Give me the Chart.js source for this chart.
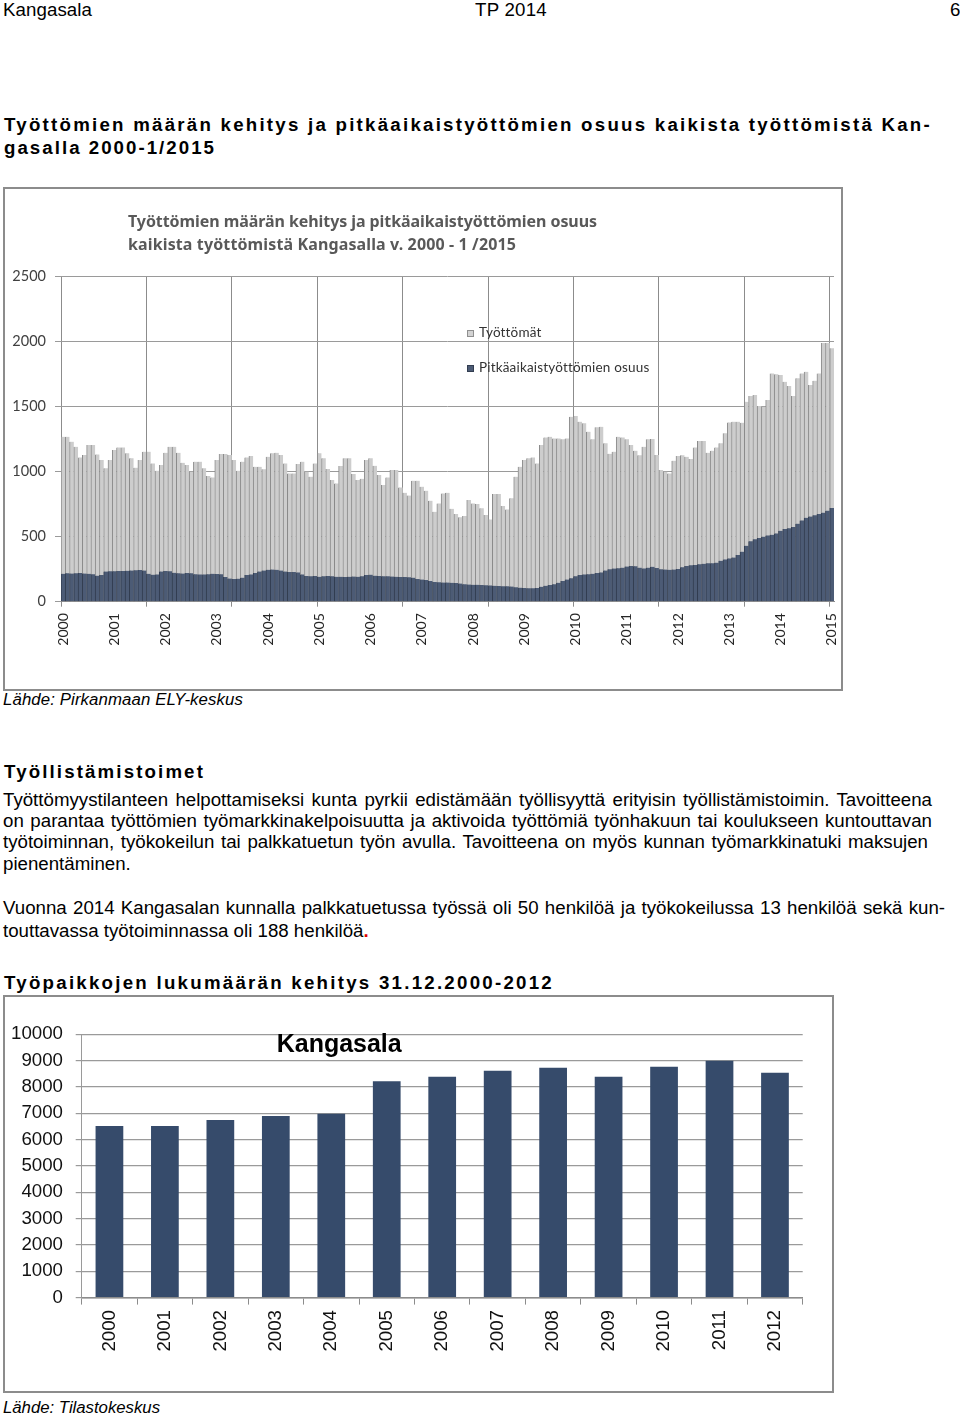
<!DOCTYPE html>
<html><head><meta charset="utf-8">
<script src="https://cdn.jsdelivr.net/npm/chart.js@4.4.1/dist/chart.umd.min.js"></script>
<style>
html,body{margin:0;padding:0;background:#fff;}
body{width:960px;height:1414px;position:relative;overflow:hidden;font-family:"Liberation Sans",Arial,sans-serif;color:#000;}
.t{position:absolute;white-space:nowrap;font-size:18.7px;line-height:18.7px;}
.b{font-weight:bold;}
.src{position:absolute;white-space:nowrap;font-style:italic;font-size:16.8px;line-height:16.8px;}
.frame{position:absolute;border:2px solid #8c8c8c;box-sizing:border-box;background:#fff;}
.cw{position:absolute;}
.ct{position:absolute;white-space:nowrap;font-family:"Noto Sans","Open Sans",sans-serif;font-weight:700;font-size:16px;line-height:16px;color:#595959;}
.lg{position:absolute;white-space:nowrap;font-family:Lato,sans-serif;font-size:13.5px;line-height:13.5px;color:#333;}
.sw{position:absolute;width:7px;height:7px;box-sizing:border-box;}
.kt{position:absolute;white-space:nowrap;font-family:"Liberation Sans",Arial,sans-serif;font-weight:bold;font-size:25px;line-height:25px;color:#000;}
</style></head><body>

<div class="t" style="left:3px;top:0.8px" data-w="89">Kangasala</div>
<div class="t" style="left:475px;top:0.8px" data-w="72">TP 2014</div>
<div class="t" style="left:950px;top:0.8px">6</div>

<div class="t b" style="left:4px;top:115.5px" data-w="928">Työttömien määrän kehitys ja pitkäaikaistyöttömien osuus kaikista työttömistä Kan-</div>
<div class="t b" style="left:4px;top:138.5px" data-w="212">gasalla 2000-1/2015</div>

<div class="frame" style="left:3px;top:187px;width:840px;height:504px"></div>
<div class="cw" style="left:5px;top:189px;width:836px;height:500px"><canvas id="c1" width="836" height="500"></canvas></div>
<div class="ct" style="left:128px;top:212.8px" data-w="469">Työttömien määrän kehitys ja pitkäaikaistyöttömien osuus</div>
<div class="ct" style="left:128px;top:235.5px" data-w="388">kaikista työttömistä Kangasalla v. 2000 - 1 /2015</div>
<div class="sw" style="left:467px;top:330px;background:#d3d3d3;border:1px solid #8f8f8f"></div>
<div class="lg" style="left:479px;top:326px" data-w="62">Työttömät</div>
<div class="sw" style="left:467px;top:365px;background:#4c5b75;border:1px solid #323d50"></div>
<div class="lg" style="left:479px;top:360.7px" data-w="170">Pitkäaikaistyöttömien osuus</div>

<div class="src" style="left:3px;top:691.8px" data-w="240">Lähde: Pirkanmaan ELY-keskus</div>

<div class="t b" style="left:4px;top:762.5px" data-w="201">Työllistämistoimet</div>
<div class="t" style="left:3px;top:790.5px" data-w="929" data-m="w">Työttömyystilanteen helpottamiseksi kunta pyrkii edistämään työllisyyttä erityisin työllistämistoimin. Tavoitteena</div>
<div class="t" style="left:3px;top:811.6px" data-w="929" data-m="w">on parantaa työttömien työmarkkinakelpoisuutta ja aktivoida työttömiä työnhakuun tai koulukseen kuntouttavan</div>
<div class="t" style="left:3px;top:832.7px" data-w="925" data-m="w">työtoiminnan, työkokeilun tai palkkatuetun työn avulla. Tavoitteena on myös kunnan työmarkkinatuki maksujen</div>
<div class="t" style="left:3px;top:854.5px">pienentäminen.</div>

<div class="t" style="left:3px;top:898.5px" data-w="942" data-m="w">Vuonna 2014 Kangasalan kunnalla palkkatuetussa työssä oli 50 henkilöä ja työkokeilussa 13 henkilöä sekä kun-</div>
<div class="t" style="left:3px;top:921.5px">touttavassa työtoiminnassa oli 188 henkilöä<span style="color:#e00000;font-weight:bold">.</span></div>

<div class="t b" style="left:4px;top:973.5px" data-w="550">Työpaikkojen lukumäärän kehitys 31.12.2000-2012</div>

<div class="frame" style="left:3px;top:995px;width:831px;height:398px"></div>
<div class="cw" style="left:5px;top:997px;width:827px;height:394px"><canvas id="c2" width="827" height="394"></canvas></div>
<div class="kt" style="left:276.7px;top:1030.8px" data-w="125">Kangasala</div>

<div class="src" style="left:3px;top:1399.5px" data-w="157">Lähde: Tilastokeskus</div>

<script>
// ---------- Chart 1 data: monthly, 2000-01 ... 2015-01 ----------
const firstYear = 2000;
const yearLabels = ['2000','2001','2002','2003','2004','2005','2006','2007','2008','2009','2010','2011','2012','2013','2014','2015'];
const unemployed = [
1269,1269,1231,1192,1110,1128,1205,1205,1133,1090,
1026,1090,1167,1187,1187,1141,1103,1031,1090,1154,
1154,1064,1008,1051,1146,1192,1192,1146,1069,1051,
1000,1077,1077,1026,967,956,1090,1136,1136,1128,
1090,1008,1077,1110,1121,1038,1038,1018,1115,1141,
1146,1128,1064,987,987,1059,1077,1000,
962,1064,1141,1103,1021,936,910,1044,1103,1103,982,936,946,1090,1103,1046,974,897,956,1013,1013,879,
838,817,931,931,885,854,777,692,756,833,838,715,674,649,659,782,756,751,718,667,633,
828,828,736,710,795,962,1038,1090,1103,1110,1064,1205,1264,1269,1256,1256,1249,1256,1423,1428,
1385,1372,1308,1249,1341,1346,1218,1138,1154,1269,1264,1249,1205,1162,1126,1192,1249,1251,1128,
1013,1000,987,1085,1121,1126,1115,1097,1187,1236,1236,1146,1162,1187,1218,1295,1379,1385,1385,1377,
1538,1582,1590,1505,1500,1551,1756,1749,1744,1692,1659,1582,1718,1756,1769,1667,1700,1756,1990,1990,1949
];
const longTerm = [
215,218,216,218,220,217,215,212,200,205,
232,234,235,236,236,238,240,242,244,240,
215,208,210,232,236,234,222,218,216,220,
218,212,210,210,212,215,214,212,190,178,
175,177,185,205,210,220,232,240,245,248,
246,240,232,228,228,225,210,198,195,197,
192,195,198,195,192,192,190,192,194,192,195,
205,208,
200,198,196,195,193,192,190,190,188,185,
175,170,167,160,
152,150,148,147,146,144,140,
135,132,130,130,128,126,125,
122,120,118,118,116,112,
108,105,104,103,106,
115,122,128,135,145,
160,170,180,
195,205,210,
212,215,220,225,
240,250,255,258,262,
270,275,272,262,256,
262,268,260,
250,248,245,248,252,
265,275,280,282,
288,292,295,295,300,
315,325,333,340,
360,385,
430,465,480,490,
500,510,515,525,
545,560,565,575,
600,625,
645,655,665,
675,685,
700,720
];
const seriesNames = ['Työttömät','Pitkäaikaistyöttömien osuus'];
const monthCategories = unemployed.map((_, i) => (firstYear + Math.floor(i/12)) + '-' + String(i%12+1).padStart(2,'0'));
const yTicks1 = [0,500,1000,1500,2000,2500];

// ---------- Chart 2 data ----------
const jobYears = ['2000','2001','2002','2003','2004','2005','2006','2007','2008','2009','2010','2011','2012'];
const jobs = [6520,6520,6745,6900,6985,8215,8390,8620,8730,8390,8770,9000,8540];
const chart2Title = 'Kangasala';
const yTicks2 = [0,1000,2000,3000,4000,5000,6000,7000,8000,9000,10000];

// ---------- fit text widths ----------
function fitTexts(){
  document.querySelectorAll('[data-w]').forEach(el=>{
    const target = parseFloat(el.dataset.w);
    const mode = el.dataset.m || 'l';
    el.style.letterSpacing = '0px'; el.style.wordSpacing = '0px';
    const w = el.getBoundingClientRect().width;
    const text = el.textContent;
    if (mode === 'w') {
      const n = (text.match(/ /g) || []).length;
      if (n) el.style.wordSpacing = ((target - w) / n) + 'px';
    } else {
      const n = [...text].length;
      el.style.letterSpacing = ((target - w) / n) + 'px';
    }
  });
}
fitTexts();

// ---------- Chart 1 ----------
new Chart(document.getElementById('c1'), {
  type: 'bar',
  data: {
    labels: monthCategories,
    datasets: [
      { label: seriesNames[0], data: unemployed, backgroundColor: '#cdcdcd', borderColor: '#8a8a8a',
        borderWidth: {left:1, right:0, top:0, bottom:0}, borderSkipped: false,
        barPercentage: 1, categoryPercentage: 1, order: 2 },
      { label: seriesNames[1], data: longTerm, backgroundColor: '#4c5b75', borderColor: '#323d50',
        borderWidth: {left:1, right:0, top:0, bottom:0}, borderSkipped: false,
        barPercentage: 1, categoryPercentage: 1, order: 1 }
    ]
  },
  options: {
    responsive: false, animation: false,
    layout: { padding: { top: 87.7, left: 0, right: 7, bottom: 37.3 } },
    plugins: { legend: { display: false }, tooltip: { enabled: false }, title: { display: false } },
    scales: {
      x: {
        stacked: true, offset: true,
        grid: { offset: true, drawTicks: true, tickLength: 5, lineWidth: 1,
          color: (c) => (c.index !== undefined && c.index % 20 === 0) ? '#8c8c8c' : 'rgba(0,0,0,0)' },
        border: { display: true, color: '#8c8c8c', width: 1 },
        ticks: { autoSkip: false, minRotation: 90, maxRotation: 90, padding: 6.5,
          font: { family: 'Lato', size: 14 }, color: '#262626',
          callback: (v, i) => (i % 12 === 0) ? yearLabels[i / 12] : '' },
        afterFit: (s) => { s.height = 50; s.paddingLeft = 0; s.paddingRight = 0; }
      },
      y: {
        min: 0, max: 2500,
        afterBuildTicks: (s) => { s.ticks = yTicks1.map(v => ({ value: v })); },
        grid: { color: '#9a9a9a', lineWidth: 1, drawTicks: true, tickLength: 6 },
        border: { display: false },
        ticks: { padding: 9, font: { family: 'Lato', size: 14.5 }, color: '#404040', callback: (v) => String(v) },
        afterFit: (s) => { s.width = 56; s.paddingTop = 0; s.paddingBottom = 0; }
      }
    }
  }
});

// ---------- Chart 2 ----------
new Chart(document.getElementById('c2'), {
  type: 'bar',
  data: {
    labels: jobYears,
    datasets: [{ label: chart2Title, data: jobs, backgroundColor: '#364b6b', barPercentage: 0.5, categoryPercentage: 1 }]
  },
  options: {
    responsive: false, animation: false,
    layout: { padding: { top: 37.3, left: 0, right: 29.3, bottom: 33.4 } },
    plugins: { legend: { display: false }, tooltip: { enabled: false }, title: { display: false } },
    scales: {
      x: {
        offset: true,
        grid: { offset: true, drawOnChartArea: false, drawTicks: true, tickLength: 7, color: '#8c8c8c', lineWidth: 1 },
        border: { display: true, color: '#8c8c8c', width: 1.5 },
        ticks: { minRotation: 90, maxRotation: 90, padding: 5.4,
          font: { family: "'Liberation Sans', Arial", size: 18.7 }, color: '#111' },
        afterFit: (s) => { s.height = 60; s.paddingLeft = 0; s.paddingRight = 0; }
      },
      y: {
        min: 0, max: 10000,
        afterBuildTicks: (s) => { s.ticks = yTicks2.map(v => ({ value: v })); },
        grid: { color: '#9a9a9a', lineWidth: 1.2, drawTicks: true, tickLength: 6 },
        border: { display: true, color: '#9a9a9a', width: 1 },
        ticks: { padding: 12.7, font: { family: "'Liberation Sans', Arial", size: 18.7 }, color: '#111', callback: (v) => String(v) },
        afterFit: (s) => { s.width = 76.7; s.paddingTop = 0; s.paddingBottom = 0; }
      }
    }
  }
});
</script>
</body></html>
